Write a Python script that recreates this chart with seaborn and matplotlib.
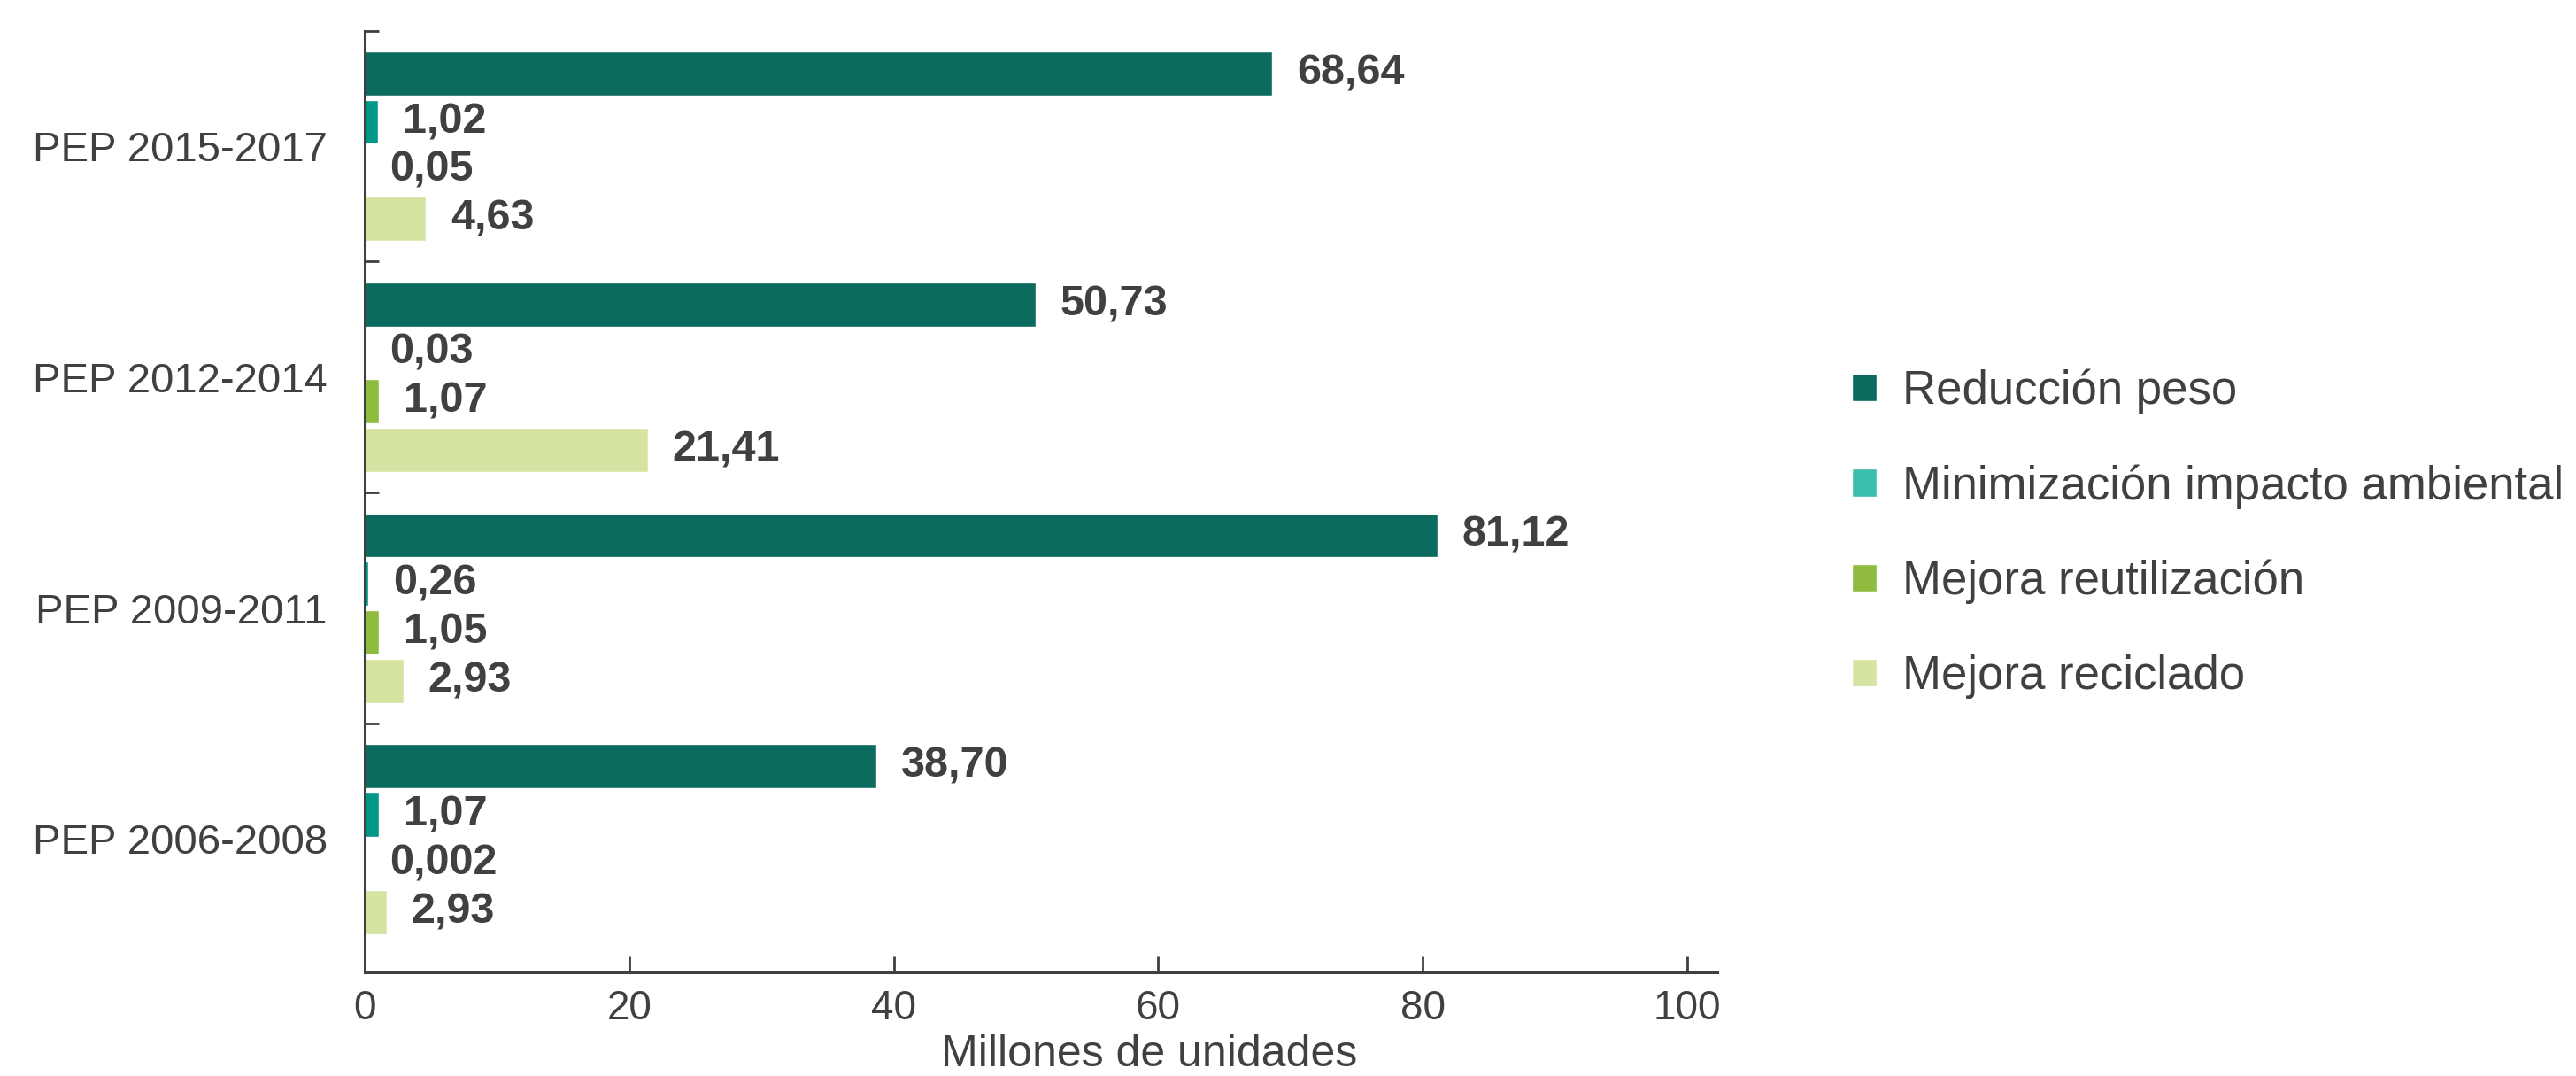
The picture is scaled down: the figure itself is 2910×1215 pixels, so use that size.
import pandas as pd
import matplotlib.pyplot as plt
import seaborn as sns
from matplotlib import font_manager

# periodos de arriba a abajo
periodos = ["PEP 2015-2017", "PEP 2012-2014", "PEP 2009-2011", "PEP 2006-2008"]
series = [
    "Reducción peso",
    "Minimización impacto ambiental",
    "Mejora reutilización",
    "Mejora reciclado",
]

reduccion_peso = [68.64, 50.73, 81.12, 38.70]
minimizacion   = [1.02, 0.03, 0.26, 1.07]
reutilizacion  = [0.05, 1.07, 1.05, 0.002]
reciclado      = [4.63, 21.41, 2.93, 1.67]

etiquetas = {
    "Reducción peso":                 ["68,64", "50,73", "81,12", "38,70"],
    "Minimización impacto ambiental": ["1,02", "0,03", "0,26", "1,07"],
    "Mejora reutilización":           ["0,05", "1,07", "1,05", "0,002"],
    "Mejora reciclado":               ["4,63", "21,41", "2,93", "2,93"],
}

colores_barra   = ["#0c6b5f", "#009688", "#8fbc3e", "#d6e4a2"]
colores_leyenda = ["#0c6b5f", "#3abfad", "#8fbc3e", "#d6e4a2"]
GRIS = "#404040"

valores = [reduccion_peso, minimizacion, reutilizacion, reciclado]
rows = []
for serie, vals in zip(series, valores):
    for periodo, v in zip(periodos, vals):
        rows.append({"periodo": periodo, "serie": serie, "valor": v})
df = pd.DataFrame(rows)

sns.set_style("white")
plt.rcParams["font.family"] = ["Liberation Sans", "DejaVu Sans"]
plt.rcParams["font.size"] = 34

instaladas = {f.name for f in font_manager.fontManager.ttflist}
if "Liberation Sans Narrow" in instaladas:
    fam_eje = ["Liberation Sans Narrow", "Liberation Sans"]
    size_eje, size_xlab = 38, 42
else:
    fam_eje = ["Liberation Sans", "DejaVu Sans"]
    size_eje, size_xlab = 33, 36

fig = plt.figure(figsize=(29.1, 12.15), dpi=100)
ax = fig.add_axes([0.1416, 0.0963, 0.6667 - 0.1416, 0.9716 - 0.0963])

sns.barplot(
    data=df, x="valor", y="periodo", hue="serie",
    order=periodos, hue_order=series,
    palette=colores_barra, orient="h",
    width=0.84, gap=0.09, saturation=1,
    ax=ax,
)

for cont, serie in zip(ax.containers, series):
    ax.bar_label(
        cont, labels=etiquetas[serie], padding=20,
        fontsize=35, fontweight="bold", color=GRIS,
    )

ax.set_xlim(0, 102.3)
ax.set_ylim(3.577, -0.5)
ax.set_xticks([0, 20, 40, 60, 80, 100])
ax.set_ylabel("")
ax.set_xlabel("Millones de unidades", fontsize=size_xlab, color=GRIS,
              family=fam_eje)
ax.xaxis.set_label_coords(0.58, -0.066)

ax.tick_params(axis="x", bottom=True, direction="in", length=13, width=2,
               color=GRIS, labelcolor=GRIS, labelsize=size_eje, pad=14)
for lbl in ax.get_xticklabels():
    lbl.set_family(fam_eje)
ax.tick_params(axis="y", which="major", left=False, labelcolor=GRIS,
               labelsize=34, pad=27)
ax.set_yticks([-0.5, 0.5, 1.5, 2.5], minor=True)
ax.tick_params(axis="y", which="minor", left=True, direction="in",
               length=11.5, width=2, color=GRIS)

for s in ["top", "right"]:
    ax.spines[s].set_visible(False)
for s in ["left", "bottom"]:
    ax.spines[s].set_color(GRIS)
    ax.spines[s].set_linewidth(2.2)

handles, labels = ax.get_legend_handles_labels()
ax.get_legend().remove()
for h, c in zip(handles, colores_leyenda):
    h.set_facecolor(c)
fig.legend(
    handles, labels, loc="center left",
    bbox_to_anchor=(0.7189, 1 - 603 / 1215), borderaxespad=0,
    frameon=False, fontsize=38, labelcolor=GRIS,
    handlelength=0.53, handleheight=0.53, handletextpad=0.55,
    labelspacing=1.08, borderpad=0,
)

fig.savefig("out.png", dpi=100)
plt.close(fig)
